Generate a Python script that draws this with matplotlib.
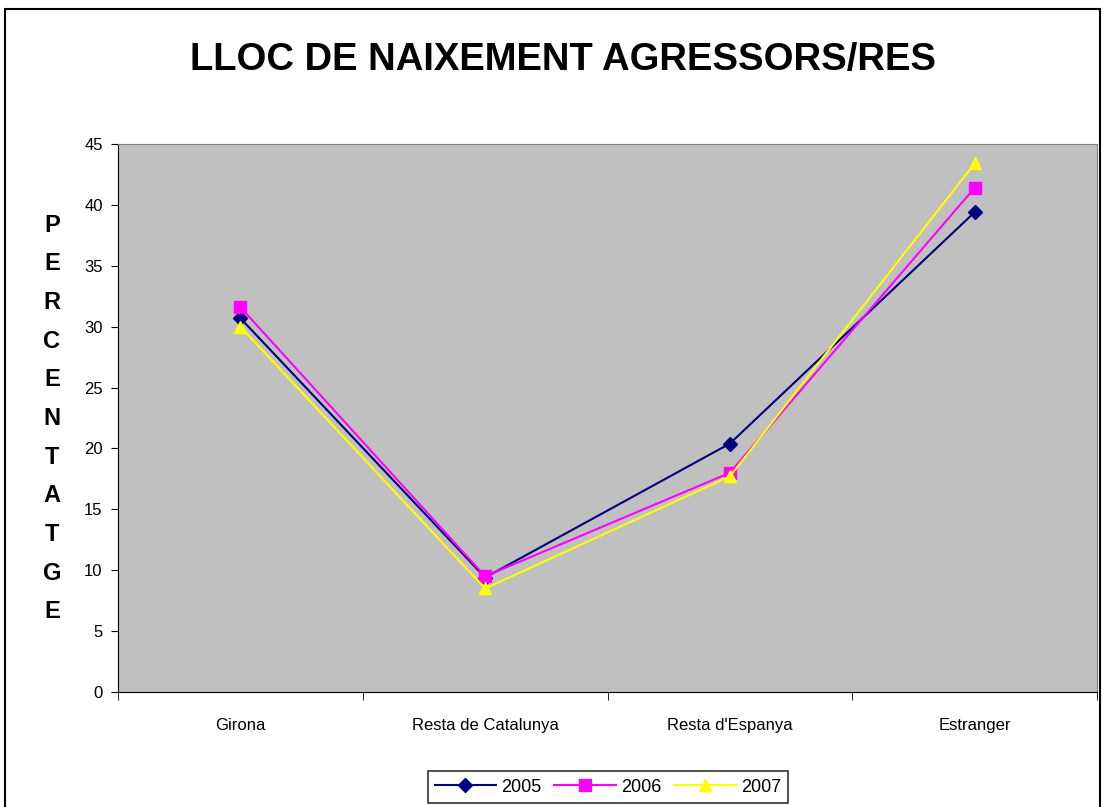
import matplotlib
matplotlib.use("Agg")
import matplotlib.pyplot as plt
from matplotlib.patches import Rectangle
import numpy as np

categories = ["Girona", "Resta de Catalunya", "Resta d'Espanya", "Estranger"]
years = ["2005", "2006", "2007"]
values_2005 = [30.7, 9.4, 20.4, 39.4]
values_2006 = [31.6, 9.5, 18.0, 41.4]
values_2007 = [30.0, 8.5, 17.7, 43.4]
yticks = [0, 5, 10, 15, 20, 25, 30, 35, 40, 45]

series = [values_2005, values_2006, values_2007]
colors = ["#000080", "#FF00FF", "#FFFF00"]
markers = ["D", "s", "^"]
msizes = [7, 8, 9]

plt.rcParams['font.family'] = ['Liberation Sans', 'DejaVu Sans']

fig = plt.figure(figsize=(11.04, 8.07), dpi=100)
# outer frame
fig.patches.append(Rectangle((5/1104, -0.01), (1100-5)/1104, (807-9)/807 + 0.01,
                             transform=fig.transFigure, fill=False,
                             edgecolor="black", linewidth=1.5))

ax = fig.add_axes([118/1104, 1-692/807, (1097-118)/1104, (692-144)/807])
ax.set_facecolor("#C0C0C0")
x = np.arange(len(categories))
for vals, c, m, ms, lab in zip(series, colors, markers, msizes, years):
    ax.plot(x, vals, color=c, marker=m, markersize=ms, linewidth=1.5,
            label=lab, markeredgecolor=c)

ax.set_xlim(-0.5, len(categories) - 0.5)
ax.set_ylim(0, 45)
ax.set_yticks(yticks)
ax.set_yticklabels([str(v) for v in yticks], fontsize=12)
ax.set_xticks(x)
ax.set_xticklabels(categories, fontsize=12)
ax.tick_params(axis='x', which='major', length=0, pad=19)
ax.set_xticks(np.arange(-0.5, len(categories)), minor=True)
ax.tick_params(axis='x', which='minor', length=6, direction='out')
ax.tick_params(axis='y', length=5, direction='out', pad=6)
for s in ["top", "right"]:
    ax.spines[s].set_color("#808080")
for s in ["left", "bottom"]:
    ax.spines[s].set_color("black")

fig.text(563/1104, 1-60/807, "LLOC DE NAIXEMENT AGRESSORS/RES", ha="center",
         va="center", fontsize=27.5, fontweight="bold")

label = "PERCENTATGE"
y0, step = 225, 38.7
for i, ch in enumerate(label):
    fig.text(52/1104, 1-(y0 + i*step)/807, ch, ha="center", va="center",
             fontsize=17, fontweight="bold")

leg = fig.legend(loc="center", bbox_to_anchor=(608/1104, 1-787/807), ncol=3,
                 fontsize=13, frameon=True, fancybox=False, handlelength=3.4,
                 borderpad=0.4, columnspacing=0.7, handletextpad=0.3)
leg.get_frame().set_edgecolor("black")
leg.get_frame().set_linewidth(1.2)

fig.savefig("out.png", dpi=100)
